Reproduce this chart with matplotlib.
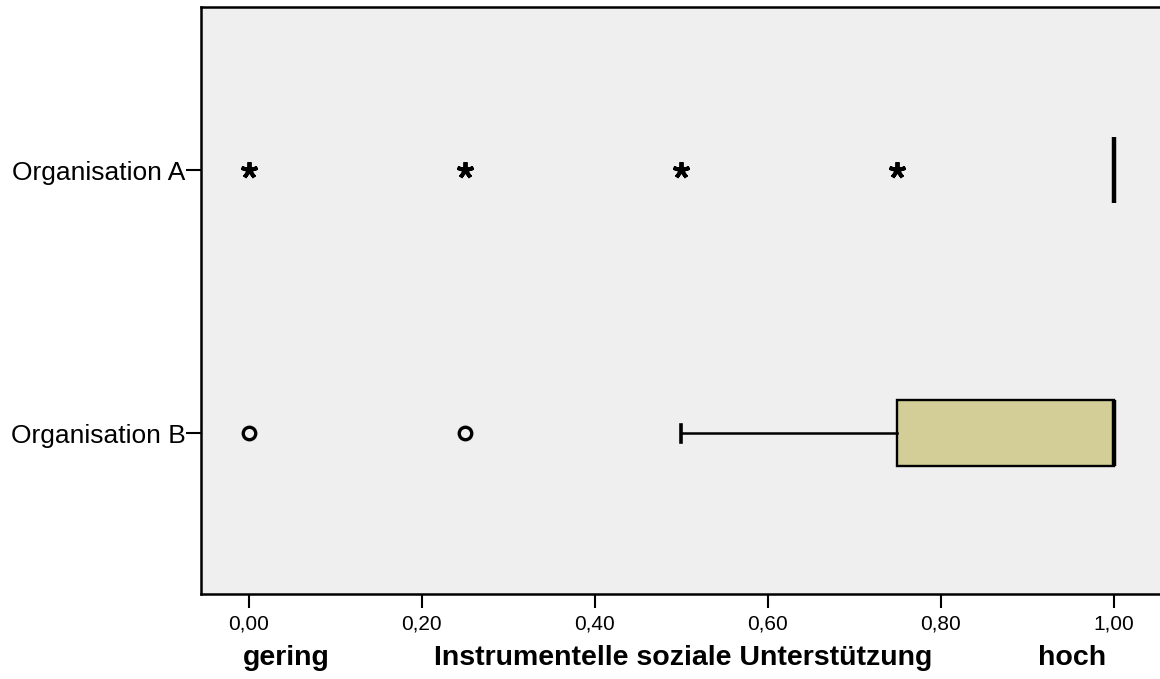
import matplotlib.pyplot as plt

plt.rcParams['font.family'] = ['Liberation Sans', 'DejaVu Sans']

groups = ['Organisation A', 'Organisation B']
positions = [1, 0]
q1 = [1.00, 0.75]
med = [1.00, 1.00]
q3 = [1.00, 1.00]
whislo = [1.00, 0.50]
whishi = [1.00, 1.00]
extremes_a = [0.00, 0.25, 0.50, 0.75]   # SPSS "*" extreme values
outliers_b = [0.00, 0.25]               # SPSS "o" outliers
xticks = [0.0, 0.2, 0.4, 0.6, 0.8, 1.0]
xticklabels = ['0,00', '0,20', '0,40', '0,60', '0,80', '1,00']

fig = plt.figure(figsize=(11.6, 6.79), dpi=100)
ax = fig.add_axes([201 / 1160, 85 / 679, 969 / 1160, 587 / 679])
ax.set_facecolor('#efefef')

stats = []
for i in range(len(groups)):
    stats.append(dict(q1=q1[i], med=med[i], q3=q3[i],
                      whislo=whislo[i], whishi=whishi[i], fliers=[]))

ax.bxp(stats, positions=positions, vert=False, widths=0.25,
       showfliers=False, patch_artist=True, capwidths=0.065,
       boxprops=dict(facecolor='#d3ce97', edgecolor='black', linewidth=1.7),
       medianprops=dict(color='black', linewidth=3.2, solid_capstyle='butt'),
       whiskerprops=dict(color='black', linewidth=1.8),
       capprops=dict(color='black', linewidth=2.6))

ax.plot(extremes_a, [positions[0]] * len(extremes_a), linestyle='none',
        marker=(5, 2, 0), markersize=12, markeredgewidth=2.8,
        color='black')
ax.plot(outliers_b, [positions[1]] * len(outliers_b), linestyle='none',
        marker='o', markersize=9, markerfacecolor='none',
        markeredgewidth=2.4, markeredgecolor='black')

ax.set_xlim(-0.0555, 1.0653)
ax.set_ylim(-0.612, 1.62)
ax.set_yticks(positions)
ax.set_yticklabels(groups, fontsize=19)
ax.set_xticks(xticks)
ax.set_xticklabels(xticklabels, fontsize=15)
ax.tick_params(axis='y', length=11, width=1.5, pad=0)
ax.tick_params(axis='x', length=10, width=1.5, pad=5)

for side in ['left', 'top', 'bottom']:
    ax.spines[side].set_linewidth(1.8)
ax.spines['right'].set_visible(False)

fig.text(286 / 1160, 1 - 658 / 679, 'gering', fontsize=20.5,
         fontweight='bold', ha='center', va='center')
fig.text(683 / 1160, 1 - 658 / 679, 'Instrumentelle soziale Unterstützung',
         fontsize=20.5, fontweight='bold', ha='center', va='center')
fig.text(1072 / 1160, 1 - 658 / 679, 'hoch', fontsize=20.5,
         fontweight='bold', ha='center', va='center')

fig.savefig('out.png', dpi=100)
